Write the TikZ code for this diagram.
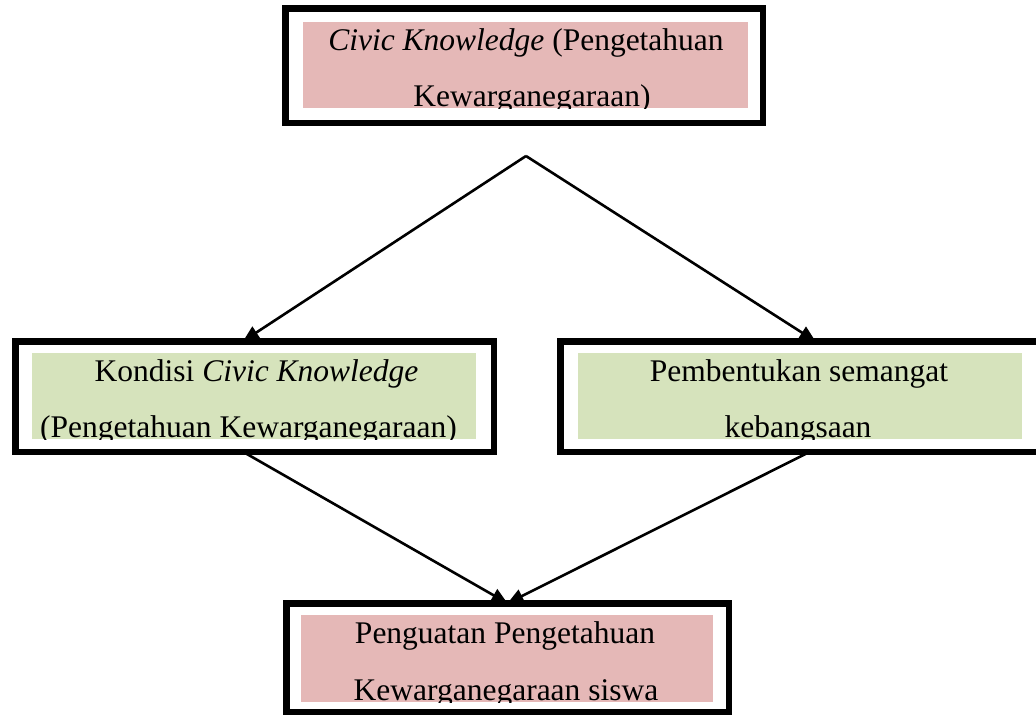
\documentclass[tikz,border=0pt]{standalone}
\usepackage{fontspec}
\setmainfont{Liberation Serif}
\usetikzlibrary{arrows.meta}
\pgfdeclarelayer{bg}
\pgfsetlayers{bg,main}
\definecolor{pinkfill}{HTML}{E5B8B7}
\definecolor{greenfill}{HTML}{D6E3BC}
\tikzset{
  frame/.style={draw=black, line width=6.5pt, fill=white, outer sep=0pt, inner sep=0pt},
  pinkbox/.style={fill=pinkfill, draw=none, inner sep=0pt, outer sep=0pt},
  greenbox/.style={fill=greenfill, draw=none, inner sep=0pt, outer sep=0pt},
  txt/.style={anchor=base, inner sep=0pt, font=\fontsize{31.5}{55}\selectfont},
  conn/.style={line width=2.6pt, -{Triangle[length=16pt,width=14pt]}}
}
\begin{document}
\begin{tikzpicture}[x=1pt,y=-1pt]
\useasboundingbox (0,0) rectangle (1036,715);
\clip (0,0) rectangle (1036,715);
% frames
\node[frame, minimum width=477.5pt, minimum height=114.5pt] (top) at (524,65.5) {};
\node[frame, minimum width=478.5pt, minimum height=110.5pt] (lb) at (254.5,396.5) {};
\node[frame, minimum width=479.5pt, minimum height=110.5pt] (rb) at (800,396.5) {};
\node[frame, minimum width=442.5pt, minimum height=108.5pt] (bb) at (507.5,657.5) {};
% fills
\node[pinkbox, minimum width=445pt, minimum height=86pt] (topf) at (525.5,65) {};
\node[greenbox, minimum width=444pt, minimum height=86pt] (lbf) at (254,396) {};
\node[greenbox, minimum width=444pt, minimum height=86pt] (rbf) at (800,396) {};
\node[pinkbox, minimum width=412pt, minimum height=87pt] (bbf) at (507,658.5) {};
% texts
\begin{scope}
\clip (topf.south west) rectangle (topf.north east);
\node[txt] (t1) at (526,50) {\textit{Civic Knowledge} (Pengetahuan};
\node[txt] (t2) at (532,106) {Kewarganegaraan)};
\end{scope}
\begin{scope}
\clip (lbf.south west) rectangle (lbf.north east);
\node[txt] (l1) at (256.5,381) {Kondisi \textit{Civic Knowledge}};
\node[txt] (l2) at (248.5,437) {(Pengetahuan Kewarganegaraan)};
\end{scope}
\begin{scope}
\clip (rbf.south west) rectangle (rbf.north east);
\node[txt] (r1) at (799,381) {Pembentukan semangat};
\node[txt] (r2) at (798,437) {kebangsaan};
\end{scope}
\begin{scope}
\clip (bbf.south west) rectangle (bbf.north east);
\node[txt] (b1) at (505,643) {Penguatan Pengetahuan};
\node[txt] (b2) at (506,700) {Kewarganegaraan siswa};
\end{scope}
% connectors
\coordinate (apex) at (526,156);
\begin{pgfonlayer}{bg}
\draw[conn] (apex) -- ([xshift=-11.5pt]lb.north);
\draw[conn] (apex) -- ([xshift=15.5pt]rb.north);
\draw[conn] ([xshift=-11.5pt]lb.south) -- (bb.north);
\draw[conn] ([xshift=10pt]rb.south) -- (bb.north);
\end{pgfonlayer}
\end{tikzpicture}
\end{document}
